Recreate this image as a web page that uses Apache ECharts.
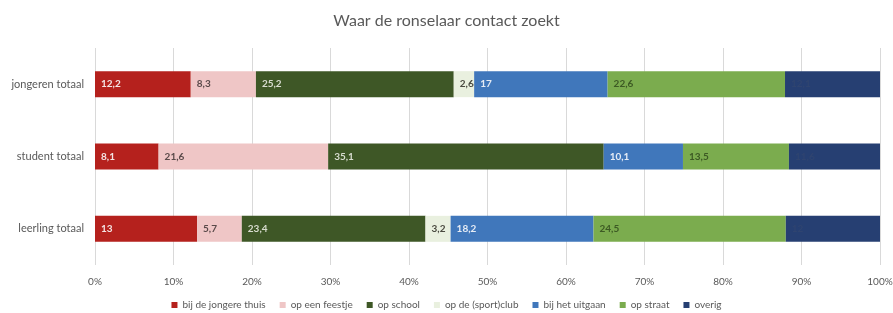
<!DOCTYPE html>
<html>
<head>
<meta charset="utf-8">
<script src="https://cdn.jsdelivr.net/npm/echarts@6/dist/echarts.min.js"></script>
<style>
    html, body { margin: 0; padding: 0; background: #fff; }
    #chart { width: 893px; height: 313px; }
</style>
</head>
<body>
<div id="chart"></div>
<script>
// categorieën (van boven naar beneden)
let categories = ['jongeren totaal', 'student totaal', 'leerling totaal'];
// series
let seriesNames = ['bij de jongere thuis', 'op een feestje', 'op school', 'op de (sport)club', 'bij het uitgaan', 'op straat', 'overig'];
let thuisData = [12.2, 8.1, 13];
let feestjeData = [8.3, 21.6, 5.7];
let schoolData = [25.2, 35.1, 23.4];
let clubData = [2.6, 0, 3.2];
let uitgaanData = [17, 10.1, 18.2];
let straatData = [22.6, 13.5, 24.5];
let overigData = [12.1, 11.6, 12];

let seriesData = [thuisData, feestjeData, schoolData, clubData, uitgaanData, straatData, overigData];
let colors = ['#b5211d', '#efc6c6', '#3e5726', '#e9f0df', '#4077bb', '#7bac4e', '#263f72'];
let labelColors = ['#f4e4e4', '#5a4a4a', '#d8dccf', '#4a4a40', '#e6ecf5', '#3d5a24', '#2f4470'];

let fontFamily = 'Lato, "Open Sans", sans-serif';

let series = [];
for (let i = 0; i < seriesNames.length; i++) {
    series.push({
        name: seriesNames[i],
        type: 'bar',
        stack: 'totaal',
        barWidth: 26,
        data: seriesData[i],
        itemStyle: { color: colors[i] },
        label: {
            show: true,
            position: 'insideLeft',
            distance: 6,
            color: labelColors[i],
            fontSize: 10,
            fontWeight: 'bold',
            fontFamily: fontFamily,
            formatter: function (p) {
                if (!p.value) return '';
                return String(p.value).replace('.', ',');
            }
        }
    });
}

let option = {
    animation: false,
    title: {
        text: 'Waar de ronselaar contact zoekt',
        left: 'center',
        top: 8,
        textStyle: {
            color: '#595959',
            fontSize: 16,
            fontWeight: 'normal',
            fontFamily: fontFamily
        }
    },
    legend: {
        data: seriesNames,
        top: 300,
        left: 'center',
        padding: 0,
        itemWidth: 6,
        itemHeight: 6,
        itemGap: 14,
        icon: 'rect',
        textStyle: {
            color: '#595959',
            fontSize: 10,
            fontFamily: fontFamily
        }
    },
    grid: {
        top: 48,
        bottom: 48,
        left: 95,
        right: 13,
        outerBoundsMode: 'none'
    },
    xAxis: {
        type: 'value',
        min: 0,
        max: 100,
        interval: 10,
        axisLine: { show: false },
        axisTick: { show: false },
        splitLine: { lineStyle: { color: '#d9d9d9' } },
        axisLabel: {
            color: '#595959',
            fontSize: 10,
            fontFamily: fontFamily,
            margin: 12,
            formatter: '{value}%'
        }
    },
    yAxis: {
        type: 'category',
        inverse: true,
        data: categories,
        axisLine: { show: false },
        axisTick: { show: false },
        axisLabel: {
            color: '#595959',
            fontSize: 11,
            fontFamily: fontFamily,
            margin: 11
        }
    },
    series: series
};

let myChart = echarts.init(document.getElementById('chart'));
myChart.setOption(option);
</script>
</body>
</html>
